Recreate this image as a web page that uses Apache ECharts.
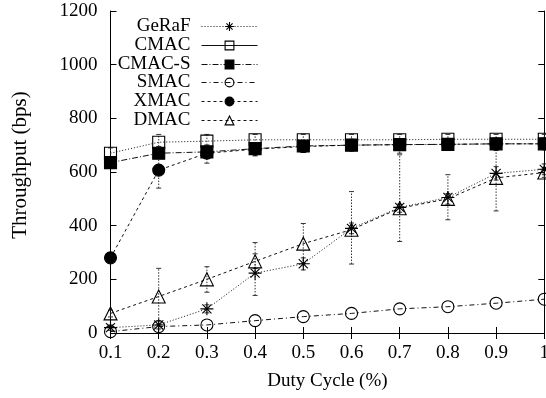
<!DOCTYPE html>
<html><head><meta charset="utf-8">
<script src="https://cdn.jsdelivr.net/npm/echarts@6/dist/echarts.min.js"></script>
<style>html,body{margin:0;padding:0;background:#fff}#c{width:546px;height:398px}</style>
</head><body><div id="c"></div>
<script>
const categories = ['0.1','0.2','0.3','0.4','0.5','0.6','0.7','0.8','0.9','1'];
const yTicks = [0, 200, 400, 600, 800, 1000, 1200];
const geraf = [20, 30, 90, 223, 258, 390, 468, 505, 595, 610];
const cmac  = [670, 711, 715, 720, 720, 720, 720, 722, 722, 722];
const cmacS = [635, 670, 675, 687, 697, 700, 702, 703, 705, 705];
const smac  = [5, 24, 30, 46, 61, 73, 90, 98, 111, 126];
const xmac  = [280, 607, 670, 685, 695, 700, 702, 703, 705, 705];
const dmac  = [73, 136, 200, 267, 333, 385, 465, 500, 578, 598];
// error bar ranges
const gerafLow  = [10, 15, 75, 140, 235, 370, 341, 422, 570, 590];
const gerafHigh = [30, 45, 105, 337, 280, 410, 664, 590, 620, 630];
const dmacLow   = [60, 31, 152, 240, 258, 257, 450, 480, 455, 580];
const dmacHigh  = [85, 241, 247, 295, 408, 527, 480, 520, 690, 615];
const cmacLow   = [655, 695, 700, 705, 705, 705, 705, 705, 705, 705];
const cmacHigh  = [690, 740, 740, 740, 740, 740, 740, 740, 740, 740];
const xmacLow   = [270, 540, 633, 660, 675, 680, 670, 680, 680, 690];
const xmacHigh  = [290, 680, 700, 705, 710, 715, 715, 715, 715, 715];

const FONT = 'Liberation Serif';
const chart = echarts.init(document.getElementById('c'), null, {renderer:'canvas'});

const asterisk = 'path://M0,-10L0,10M-10,0L10,0M-7,-7L7,7M-7,7L7,-7';

function errData(lo, hi){ return lo.map((l,i)=>[i, l, hi[i]]); }
function errSeries(lo, hi){
  return {
    type:'custom', z:1, silent:true,
    data: errData(lo, hi),
    encode:{x:0, y:[1,2]},
    renderItem(params, api){
      const x = api.value(0);
      const p1 = api.coord([x, api.value(1)]);
      const p2 = api.coord([x, api.value(2)]);
      const st = {stroke:'#333', lineWidth:1, lineDash:[1.5,1.5]};
      const cs = {stroke:'#333', lineWidth:1};
      return {type:'group', children:[
        {type:'line', shape:{x1:p1[0],y1:p1[1],x2:p2[0],y2:p2[1]}, style:st},
        {type:'line', shape:{x1:p1[0]-2.5,y1:p1[1],x2:p1[0]+2.5,y2:p1[1]}, style:cs},
        {type:'line', shape:{x1:p2[0]-2.5,y1:p2[1],x2:p2[0]+2.5,y2:p2[1]}, style:cs}
      ]};
    }
  };
}

const defs = [
  {name:'GeRaF', data:geraf, symbol:asterisk, size:13, fill:'transparent', dash:[1,2], legendDash:[1,2]},
  {name:'CMAC', data:cmac, symbol:'rect', size:12, fill:'transparent', dash:[1,2], legendDash:'solid'},
  {name:'CMAC-S', data:cmacS, symbol:'rect', size:12, fill:'#000', dash:[6,2,1,2], legendDash:[6,2,1,2]},
  {name:'SMAC', data:smac, symbol:'circle', size:12, fill:'transparent', dash:[5,3,1,3], legendDash:[5,3,1,3]},
  {name:'XMAC', data:xmac, symbol:'circle', size:12, fill:'#000', dash:[3,3], legendDash:[3,3]},
  {name:'DMAC', data:dmac, symbol:'triangle', size:13, fill:'transparent', dash:[3,3], legendDash:[3,3]}
];

const lineSeries = defs.map(d => ({
  name:d.name, type:'line', data:d.data, z:3,
  symbol:d.symbol, symbolSize:d.size, showSymbol:true,
  lineStyle:{color:'#111', width:1, type:d.dash},
  itemStyle:{color:d.fill, borderColor:'#000', borderWidth:1.1},
  emphasis:{disabled:true}, animation:false
}));

const legendTop = [17, 36, 55, 73, 92, 111];
const legends = defs.map((d,i) => ({
  show:true, orient:'vertical', right:288, top:legendTop[i],
  align:'right', itemWidth:56, itemHeight:11, padding:0,
  selectedMode:false,
  textStyle:{fontFamily:FONT, fontSize:19, color:'#000', padding:[0,6,0,0]},
  data:[{name:d.name, itemStyle:{color:d.fill, borderColor:'#000', borderWidth:1.1},
         lineStyle:{color:'#111', width:1, type:d.legendDash}}]
}));

const axisLabelStyle = {fontFamily:FONT, fontSize:19, color:'#000'};
chart.setOption({
  animation:false,
  backgroundColor:'#fff',
  grid:{left:110.5, right:1.7, top:11, bottom:65, containLabel:false, outerBoundsMode:'none'},
  legend: legends,
  xAxis:[{
    type:'category', data:categories, boundaryGap:false,
    axisLine:{lineStyle:{color:'#000', width:1}},
    axisTick:{inside:true, length:6, lineStyle:{color:'#000'}, alignWithLabel:true},
    axisLabel:Object.assign({margin:11, showMaxLabel:true, hideOverlap:false}, axisLabelStyle),
    splitLine:{show:false},
    name:'Duty Cycle (%)', nameLocation:'middle', nameGap:39,
    nameTextStyle:{fontFamily:FONT, fontSize:19, color:'#000'}
  },{
    type:'category', data:categories, boundaryGap:false, position:'top',
    axisLine:{lineStyle:{color:'#000', width:1}},
    axisTick:{inside:true, length:6, lineStyle:{color:'#000'}},
    axisLabel:{show:false}, splitLine:{show:false}
  }],
  yAxis:[{
    type:'value', min:yTicks[0], max:yTicks[yTicks.length-1], interval:200,
    axisLine:{show:true, lineStyle:{color:'#000', width:1}},
    axisTick:{show:true, inside:true, length:6, lineStyle:{color:'#000'}},
    axisLabel:Object.assign({margin:13, formatter:v => String(v)}, axisLabelStyle),
    splitLine:{show:false},
    name:'Throughput (bps)', nameLocation:'middle', nameGap:80, nameRotate:90,
    nameTextStyle:{fontFamily:FONT, fontSize:21, color:'#000', padding:[0,0,0,14]}
  },{
    type:'value', min:yTicks[0], max:yTicks[yTicks.length-1], interval:200, position:'right',
    axisLine:{show:true, lineStyle:{color:'#000', width:1}},
    axisTick:{show:true, inside:true, length:6, lineStyle:{color:'#000'}},
    axisLabel:{show:false}, splitLine:{show:false}
  }],
  series: [
    errSeries(gerafLow, gerafHigh),
    errSeries(dmacLow, dmacHigh),
    errSeries(cmacLow, cmacHigh),
    errSeries(xmacLow, xmacHigh)
  ].concat(lineSeries)
});
</script></body></html>
